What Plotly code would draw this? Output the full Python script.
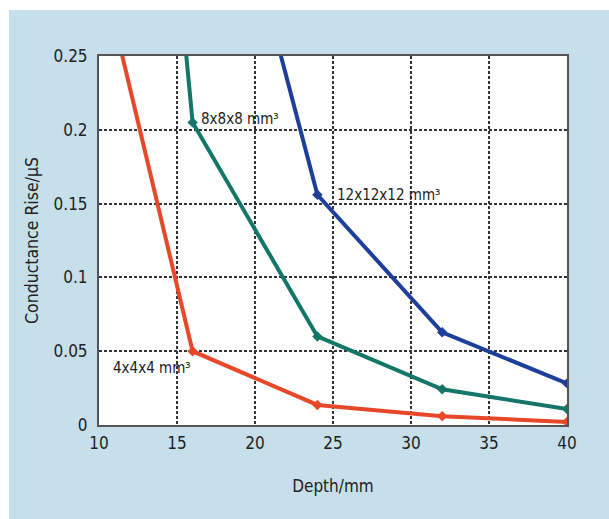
import plotly.graph_objects as go

# Data (depth in mm, conductance rise in µS)
depth_4 = [8, 16, 24, 32, 40]
rise_4 = [0.405, 0.050, 0.0136, 0.006, 0.002]

depth_8 = [8, 16, 24, 32, 40]
rise_8 = [1.10, 0.205, 0.060, 0.0242, 0.0108]

depth_12 = [16, 24, 32, 40]
rise_12 = [0.478, 0.156, 0.0628, 0.0282]

x_ticks = [10, 15, 20, 25, 30, 35, 40]
y_ticks = [0, 0.05, 0.1, 0.15, 0.2, 0.25]
y_tick_text = ["0", "0.05", "0.1", "0.15", "0.2", "0.25"]

FONT = "DejaVu Sans Condensed, Liberation Sans Narrow, sans-serif"
RED = "#e8482a"
GREEN = "#137668"
BLUE = "#1d3f9b"
BG = "#c6dfea"

fig = go.Figure()
for xs, ys, col in [(depth_4, rise_4, RED), (depth_8, rise_8, GREEN), (depth_12, rise_12, BLUE)]:
    fig.add_trace(go.Scatter(
        x=xs, y=ys, mode="lines+markers",
        line=dict(color=col, width=4),
        marker=dict(symbol="diamond", size=8, color=col),
        cliponaxis=True, showlegend=False,
    ))

L, R, T, B = 99, 42, 56, 94
W, H = 609, 519
pw, ph = W - L - R, H - T - B

def px_x(p):
    return (p - L) / pw

def px_y(p):
    return (H - B - p) / ph

# white strips on top and left of figure
fig.add_shape(type="rect", xref="paper", yref="paper",
              x0=px_x(0), x1=px_x(W), y0=px_y(10), y1=px_y(0),
              fillcolor="white", line_width=0, layer="below")
fig.add_shape(type="rect", xref="paper", yref="paper",
              x0=px_x(0), x1=px_x(9), y0=px_y(H), y1=px_y(0),
              fillcolor="white", line_width=0, layer="below")

annots = [
    ("8x8x8 mm³", 16.4, 0.207),
    ("12x12x12 mm³", 25.1, 0.156),
    ("4x4x4 mm³", 10.8, 0.0385),
]
for txt, ax, ay in annots:
    fig.add_annotation(x=ax, y=ay, text=txt, showarrow=False, xanchor="left",
                       yanchor="middle", font=dict(family=FONT, size=15, color="#222"))

fig.update_layout(
    width=W, height=H,
    margin=dict(l=L, r=R, t=T, b=B),
    paper_bgcolor=BG, plot_bgcolor="white",
    font=dict(family=FONT, size=17, color="#222"),
    xaxis=dict(range=[10, 40], tickvals=x_ticks, showgrid=True,
               gridcolor="#333", griddash="3px,2px", gridwidth=1.5,
               showline=True, linecolor="#555", linewidth=2, mirror=True,
               zeroline=False, ticks="", ticklabelstandoff=2,
               title=dict(text="Depth/mm", font=dict(size=17), standoff=28)),
    yaxis=dict(range=[0, 0.25], tickvals=y_ticks, ticktext=y_tick_text, showgrid=True,
               gridcolor="#333", griddash="3px,2px", gridwidth=1.5,
               showline=True, linecolor="#555", linewidth=2, mirror=True,
               zeroline=False, ticks="", ticklabelstandoff=6,
               title=dict(text="Conductance Rise/µS", font=dict(size=17.5), standoff=10)),
)

fig.write_html("out.html")
